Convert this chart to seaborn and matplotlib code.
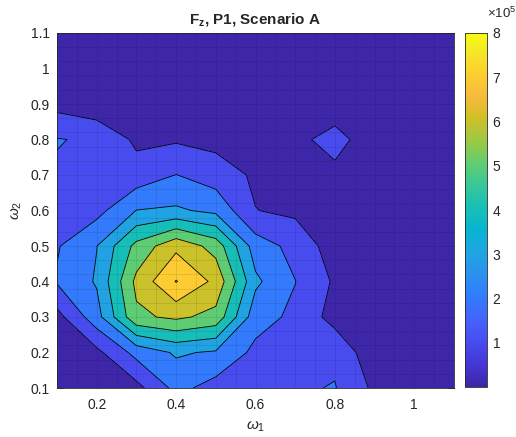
import numpy as np
import matplotlib
matplotlib.use("Agg")
import matplotlib.pyplot as plt
from matplotlib.colors import LinearSegmentedColormap, Normalize
from matplotlib.cm import ScalarMappable
from matplotlib.ticker import FuncFormatter, FixedLocator
import seaborn as sns

# ---- data -------------------------------------------------------------
omega1 = [0.1, 0.2, 0.3, 0.4, 0.5, 0.6, 0.7, 0.8, 0.9, 1.0, 1.1]
omega2 = [0.1, 0.2, 0.3, 0.4, 0.5, 0.6, 0.7, 0.8, 0.9, 1.0, 1.1]
fz_scale = 1e5

# F_z (in units of 1e5), one list per omega2 value, ordered along omega1
fz_w2_010 = [0.20, 0.30, 0.67, 2.30, 1.60, 1.70, 1.88, 2.05, 0.80, 0.40, 0.30]
fz_w2_020 = [0.45, 0.75, 2.33, 3.13, 2.87, 1.75, 1.70, 1.80, 0.30, 0.25, 0.20]
fz_w2_030 = [0.65, 2.60, 5.80, 6.20, 5.68, 2.40, 1.79, 0.61, 0.35, 0.25, 0.20]
fz_w2_040 = [2.10, 3.10, 6.25, 8.05, 6.75, 3.20, 2.02, 0.86, 0.45, 0.30, 0.25]
fz_w2_050 = [1.91, 2.98, 5.30, 6.75, 5.60, 2.50, 1.69, 0.50, 0.35, 0.25, 0.20]
fz_w2_060 = [1.80, 1.67, 3.02, 3.15, 2.75, 1.02, 0.80, 0.45, 0.35, 0.25, 0.20]
fz_w2_070 = [1.88, 1.75, 1.40, 2.02, 1.50, 0.85, 0.60, 0.93, 0.50, 0.30, 0.20]
fz_w2_080 = [2.05, 1.85, 0.81, 0.88, 0.70, 0.55, 0.93, 1.10, 0.84, 0.40, 0.25]
fz_w2_090 = [0.67, 0.30, 0.45, 0.50, 0.40, 0.40, 0.45, 0.84, 0.50, 0.30, 0.20]
fz_w2_100 = [0.40, 0.30, 0.30, 0.35, 0.30, 0.30, 0.30, 0.35, 0.30, 0.20, 0.15]
fz_w2_110 = [0.30, 0.25, 0.25, 0.30, 0.25, 0.25, 0.25, 0.25, 0.20, 0.10, 0.05]

contour_levels = [1, 2, 3, 4, 5, 6, 7, 8]
cbar_ticks = [1, 2, 3, 4, 5, 6, 7, 8]
x_ticks = [0.2, 0.4, 0.6, 0.8, 1.0]
y_ticks = [0.1, 0.2, 0.3, 0.4, 0.5, 0.6, 0.7, 0.8, 0.9, 1.0, 1.1]

# ---- style ------------------------------------------------------------
sns.set_style("ticks")
plt.rcParams["font.family"] = ["Liberation Sans", "DejaVu Sans"]
plt.rcParams["mathtext.fontset"] = "custom"
plt.rcParams["mathtext.rm"] = "Liberation Sans"
plt.rcParams["mathtext.it"] = "Liberation Sans:italic"
plt.rcParams["mathtext.bf"] = "Liberation Sans:bold"

# parula-like colormap
parula_pts = [
    (0.2422, 0.1504, 0.6603), (0.2706, 0.2147, 0.8364), (0.2813, 0.3006, 0.9414),
    (0.2699, 0.3892, 0.9906), (0.1963, 0.4847, 0.9892), (0.1687, 0.5703, 0.9359),
    (0.1248, 0.6459, 0.8883), (0.0297, 0.7082, 0.8163), (0.0964, 0.7500, 0.7120),
    (0.2161, 0.7843, 0.5923), (0.3909, 0.8029, 0.4354), (0.6174, 0.7876, 0.2612),
    (0.8203, 0.7498, 0.1535), (0.9728, 0.7298, 0.2394), (0.9892, 0.8136, 0.1885),
    (0.9597, 0.9135, 0.1423), (0.9769, 0.9839, 0.0805),
]
parula_pos = [i * 4 / 63 for i in range(16)] + [1.0]
parula = LinearSegmentedColormap.from_list("parula", list(zip(parula_pos, parula_pts)))

W1, W2 = np.meshgrid(np.array(omega1), np.array(omega2))
FZ = np.array([fz_w2_010, fz_w2_020, fz_w2_030, fz_w2_040, fz_w2_050, fz_w2_060,
               fz_w2_070, fz_w2_080, fz_w2_090, fz_w2_100, fz_w2_110]) * fz_scale

vmin, vmax = 0.0, 8.0 * fz_scale
norm = Normalize(vmin, vmax)
lv = np.array(contour_levels, dtype=float) * fz_scale
fill_levels = np.concatenate([[-1e9], lv, [1e9]])
fill_colors = [parula(norm(vmin))] + [parula(norm(v)) for v in lv]

fig = plt.figure(figsize=(5.16, 4.37), dpi=100)
ax = fig.add_axes([57 / 516, 49 / 437, 397 / 516, 355 / 437])

ax.contourf(W1, W2, FZ, levels=fill_levels, colors=fill_colors, zorder=1)
ax.contour(W1, W2, FZ, levels=lv, colors="k", linewidths=0.6, zorder=3)

# faint mesh over the field
for gx in np.arange(0.1, 1.1001, 0.05):
    ax.axvline(gx, color="k", lw=0.6, alpha=0.1, zorder=2)
for gy in np.arange(0.1, 1.1001, 0.04):
    ax.axhline(gy, color="k", lw=0.6, alpha=0.1, zorder=2)

ax.set_xlim(0.1, 1.1)
ax.set_ylim(0.1, 1.1)
ax.xaxis.set_major_locator(FixedLocator(x_ticks))
ax.yaxis.set_major_locator(FixedLocator(y_ticks))
fmt = FuncFormatter(lambda v, _: f"{v:g}")
ax.xaxis.set_major_formatter(fmt)
ax.yaxis.set_major_formatter(fmt)
ax.tick_params(direction="in", length=4, width=0.6, top=True, right=True,
               labelsize=10, colors="#262626", zorder=4)
ax.tick_params(axis="x", pad=7)
ax.tick_params(axis="y", pad=5)
for s in ax.spines.values():
    s.set_color("#262626")
    s.set_linewidth(0.6)
    s.set_zorder(5)

ax.set_title(r"$\mathbf{F_z}$, P1, Scenario A", fontsize=11, fontweight="bold", pad=7)
ax.set_xlabel(r"$\omega_1$", fontsize=11, color="#262626", labelpad=6)
ax.set_ylabel(r"$\omega_2$", fontsize=11, color="#262626", labelpad=5)

# colorbar
cax = fig.add_axes([465 / 516, 50 / 437, 22 / 516, 354 / 437])
cb = fig.colorbar(ScalarMappable(norm=norm, cmap=parula), cax=cax,
                  ticks=[t * fz_scale for t in cbar_ticks])
cb.ax.yaxis.set_major_formatter(FuncFormatter(lambda v, _: f"{v / fz_scale:g}"))
cb.ax.tick_params(direction="in", length=4, width=0.6, labelsize=10,
                  colors="#262626", pad=4)
cb.outline.set_edgecolor("#262626")
cb.outline.set_linewidth(0.6)
cax.text(1.0, 1.035, r"$\times10^{5}$", transform=cax.transAxes,
         ha="left", va="bottom", fontsize=9.5, color="#262626")

fig.savefig("out.png", dpi=100, facecolor="white")
